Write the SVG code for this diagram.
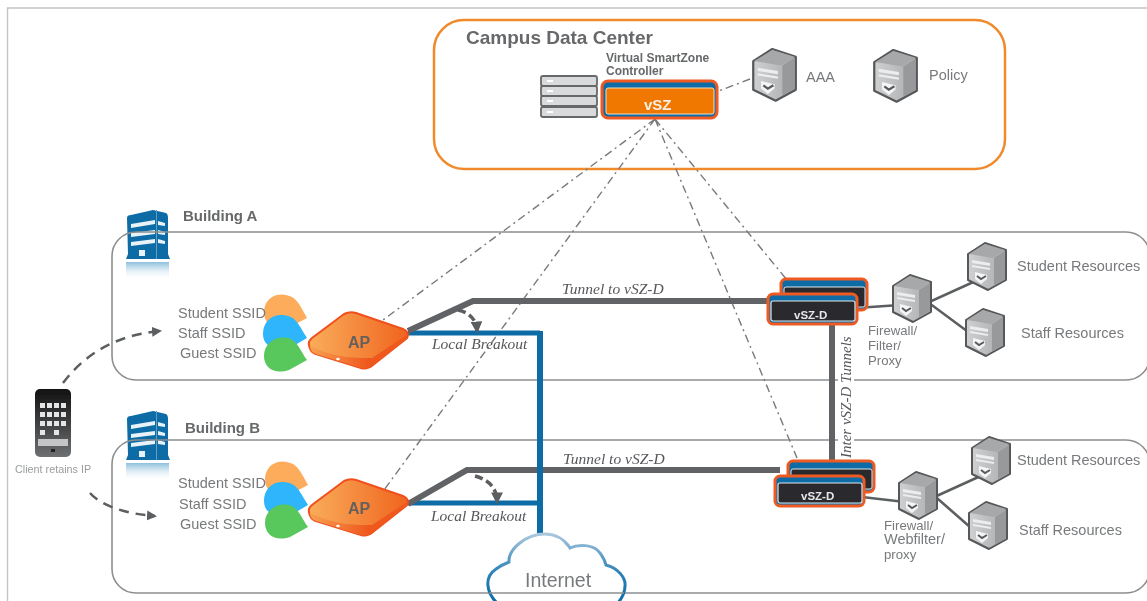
<svg xmlns="http://www.w3.org/2000/svg" width="1147" height="601" viewBox="0 0 1147 601">
<style>
text{font-family:"Liberation Sans",Arial,sans-serif;fill:#77797b}
.h{font-weight:bold;fill:#66686a}
.i{font-family:"Liberation Serif","Times New Roman",serif;font-style:italic;fill:#55575a;font-size:15.5px}
.l{font-size:14.500px}
.f{font-size:13.200px}
.dd{fill:none;stroke:#77797b;stroke-width:1.400;stroke-dasharray:8 4 2 4}
.bl{fill:none;stroke:#0a6ca6;stroke-width:5}
.gr{fill:none;stroke:#606265;stroke-width:6}
.th{fill:none;stroke:#5c5e60;stroke-width:2.5}
.da{fill:none;stroke:#5c5e60;stroke-width:2.5;stroke-dasharray:10 7}
.db{fill:none;stroke:#5c5e60;stroke-width:3.5;stroke-dasharray:8 4}
.box{fill:none;stroke:#8c8e90;stroke-width:1.6}
.vt{font-size:11.5px;font-weight:bold;fill:#e6e7e8}
.ap{font-size:16px;font-weight:bold;fill:#66615c}
</style>
<defs>
<filter id="soft" x="0" y="0" width="100%" height="100%"><feGaussianBlur stdDeviation="0.45"/></filter>
<linearGradient id="apg" x1="0" x2="1" y1="0" y2="0"><stop offset="0" stop-color="#f9ad5a"/><stop offset="1" stop-color="#f0641f"/></linearGradient>
<linearGradient id="apf" x1="0" x2="1" y1="0" y2="0"><stop offset="0" stop-color="#f7a050"/><stop offset="0.6" stop-color="#ef581e"/></linearGradient>
<linearGradient id="srv" x1="0" x2="1" y1="0" y2="0"><stop offset="0" stop-color="#cfd0d2"/><stop offset="1" stop-color="#a9abad"/></linearGradient>
<linearGradient id="refl" x1="0" x2="0" y1="0" y2="1"><stop offset="0" stop-color="#8cbfdc"/><stop offset="1" stop-color="#fff" stop-opacity="0"/></linearGradient>
<linearGradient id="cl" x1="0" x2="0" y1="0" y2="1"><stop offset="0" stop-color="#a9c8de"/><stop offset="0.55" stop-color="#2f83b7"/><stop offset="1" stop-color="#0a6ca6"/></linearGradient>
<linearGradient id="ph" x1="0" x2="0" y1="0" y2="1"><stop offset="0" stop-color="#111"/><stop offset="1" stop-color="#6e7072"/></linearGradient>
<marker id="ah" viewBox="0 0 10 10" refX="8" refY="5" markerWidth="4" markerHeight="4" orient="auto-start-reverse"><path d="M0 0L10 5L0 10z" fill="#5c5e60"/></marker>
<marker id="ah2" viewBox="0 0 10 10" refX="8" refY="5" markerWidth="3.400" markerHeight="3.400" orient="auto"><path d="M0 0L10 5L0 10z" fill="#5c5e60"/></marker>
<g id="server">
<path d="M2 11L19 0L40 7V37L22 47L2 37z" fill="url(#srv)" stroke="#56585a" stroke-width="2" stroke-linejoin="round"/>
<path d="M3 11L19 1L39 7L27 15z" fill="#a6a8aa"/>
<path d="M28 15L39 8V36L28 42z" fill="#97999b"/>
<path d="M6 17L24 20V23L6 20zM6 22L24 25V27L6 24z" fill="#eceded"/>
<path d="M9 29L21 32V36L15 41L9 36z" fill="#f5f5f5"/>
<path d="M11 33L15 36L20 33" fill="none" stroke="#56585a" stroke-width="2"/>
</g>
<g id="bldg">
<path d="M1 8Q1 5 5 5L27 0L40 3Q42 4 42 8V44L44 49H0L2 44z" fill="#0a6ca6"/>
<path d="M5 14L29 10V14L5 18zM5 23L29 20V24L5 27zM5 32L29 29V33L5 36zM32 11L39 13V16L32 15zM32 20L39 22V25L32 24zM32 29L39 31V34L32 33z" fill="#e8f2f8"/>
<rect x="13" y="40" width="6" height="6" fill="#e8f2f8"/>
<rect x="30" y="0" width="1" height="49" fill="#5e9fc6"/>
<rect x="0" y="52" width="43" height="18" fill="url(#refl)"/>
</g>
<g id="ssid">
<path d="M0 5C0 -9 14 -17 28 -10C33 -7 36 -2 43 11L24 21C8 23 0 16 0 5z" fill="#fdac5c"/>
<path d="M-1 27C-1 12 12 4 27 10C34 14 36 20 43 31L26 41C8 44 -1 38 -1 27z" fill="#2db5fb"/>
<path d="M0 49C0 35 14 27 27 32C34 36 36 43 43 53L25 63C9 68 0 60 0 49z" fill="#58c75c"/>
</g>
<g id="ap">
<path d="M-1 33Q-2 29 2 26L34 2Q40 -1 46 1L93 17Q100 20 97 26L63 53Q57 58 51 56L6 42Q0 40 -1 33z" fill="url(#apg)" stroke="#f0501e" stroke-width="2"/>
<path d="M0 34Q25 46 50 46H62L97 23V27L63 53Q57 58 51 56L6 42Q0 40 0 34z" fill="url(#apf)"/>
<ellipse cx="28" cy="47" rx="1.800" ry="1.200" fill="#fff"/>
</g>
<g id="vszd">
<rect x="13" y="-13" width="86" height="31" rx="5" fill="#0a6ca6" stroke="#ee5a24" stroke-width="3"/>
<rect x="16" y="-5" width="81" height="20" rx="2" fill="#2b2b2d" stroke="#dfe7ea" stroke-width="1"/>
<rect x="0" y="2" width="89" height="30" rx="5" fill="#0a6ca6" stroke="#ee5a24" stroke-width="3"/>
<rect x="3" y="9" width="84" height="20" rx="2" fill="#2b2b2d" stroke="#dfe7ea" stroke-width="1.200"/>
</g>
</defs>
<g filter="url(#soft)">
<rect width="1147" height="601" fill="#fff"/>
<path d="M7.500 601V8H1147" fill="none" stroke="#c4c4c4" stroke-width="1.400"/>

<g id="campus"><rect x="434" y="20" width="571" height="149" rx="30" fill="#fff" stroke="#f08a2c" stroke-width="2.500"/>
<text x="466" y="44" font-size="19" class="h">Campus Data Center</text></g>

<g id="building-a"><use href="#bldg" x="126" y="210"/><text x="183" y="221" font-size="15" class="h">Building A</text></g>
<g id="building-b"><use href="#bldg" x="126" y="411"/><text x="185" y="433" font-size="15" class="h">Building B</text></g>
<g id="building-a-box"><rect x="112" y="232" width="1038" height="148" rx="24" class="box"/></g>
<g id="building-b-box"><rect x="112" y="440" width="1038" height="153" rx="24" class="box"/></g>

<g id="connectors">
<path class="dd" d="M655 119L383 320M655 119L384 490M655 119L797 458M655 119L787 280M750 79L716 92"/>
<path class="bl" d="M408 333H540M408 503H540"/>
<path class="gr" d="M408 331L473 301H772M408 504L467 470H780"/>
<path d="M540 331V535" fill="none" stroke="#0a6ca6" stroke-width="6"/>
<path d="M832 322V460" fill="none" stroke="#606265" stroke-width="6"/>
<path class="th" d="M856 308L900 305M925 304L980 279M925 300L975 337M862 497L905 502M930 499L985 474M930 492L978 534"/>
<path d="M458 310Q476 314 477 331" class="db" marker-end="url(#ah2)"/>
<path d="M475 476Q497 482 497 502" class="db" marker-end="url(#ah2)"/>
<path d="M63 383C84 355 115 335 160 331" class="da" marker-end="url(#ah)"/>
<path d="M90 493C100 505 125 514 155 516" class="da" marker-end="url(#ah)"/>
</g>

<g id="dc-stack"><g fill="#d9dadb" stroke="#66686a" stroke-width="1.800"><rect x="541" y="76" width="56" height="10" rx="2"/><rect x="541" y="86" width="56" height="10" rx="2"/><rect x="541" y="96" width="56" height="10" rx="2"/><rect x="541" y="107" width="56" height="10" rx="2"/></g><path d="M547 81h6M547 91h6M547 101h6M547 112h6" stroke="#fff" stroke-width="2"/></g>
<g id="vsz"><text x="606" y="62" font-size="12" class="h">Virtual SmartZone</text><text x="606" y="75" font-size="12" class="h">Controller</text>
<rect x="602" y="81" width="115" height="37" rx="6" fill="#0a6ca6" stroke="#ee5a24" stroke-width="3"/>
<rect x="606" y="88" width="108" height="26" rx="2" fill="#f07800" stroke="#f5dcc0" stroke-width="1"/>
<text x="644" y="110" font-size="15" font-weight="bold" style="fill:#f6efe6">vSZ</text></g>
<g id="aaa"><use href="#server" transform="translate(751,49) scale(1.120,1.100)"/><text x="806" y="82" class="l">AAA</text></g>
<g id="policy"><use href="#server" transform="translate(872,50) scale(1.120,1.100)"/><text x="929" y="80" class="l">Policy</text></g>

<g id="ssid-a"><use href="#ssid" x="264" y="307"/><text x="178" y="318" class="l">Student SSID</text><text x="178" y="338" class="l">Staff SSID</text><text x="180" y="358" class="l">Guest SSID</text></g>
<g id="ap-a"><use href="#ap" x="310" y="312"/><text x="348" y="348" class="ap">AP</text></g>
<text class="i" x="432" y="349" id="lb-a">Local Breakout</text>
<text class="i" x="562" y="294" id="t-a">Tunnel to vSZ-D</text>
<g id="vszd-a"><use href="#vszd" x="768" y="292"/><text x="794" y="319" class="vt">vSZ-D</text></g>
<g id="fw-a"><use href="#server" x="891" y="275"/><text x="868" y="335" class="f">Firewall/</text><text x="868" y="350" class="f">Filter/</text><text x="868" y="365" class="f">Proxy</text></g>
<g id="sr-a"><use href="#server" x="966" y="243"/><text x="1017" y="271" class="l">Student Resources</text></g>
<g id="st-a"><use href="#server" x="964" y="309"/><text x="1021" y="338" class="l">Staff Resources</text></g>
<g id="inter"><rect x="838" y="336" width="16" height="122" fill="#fff"/><text class="i" style="font-size:15px" transform="translate(851,458) rotate(-90)">Inter vSZ-D Tunnels</text></g>

<g id="phone"><rect x="35" y="389" width="36" height="68" rx="5" fill="url(#ph)"/><g fill="#e4e5e6"><path d="M40 403h5v5h-5zM47 403h5v5h-5zM54 403h5v5h-5zM61 403h5v5h-5zM40 412h5v5h-5zM47 412h5v5h-5zM54 412h5v5h-5zM61 412h5v5h-5zM40 421h5v5h-5zM47 421h5v5h-5zM54 421h5v5h-5zM61 421h5v5h-5zM40 430h5v5h-5zM54 430h5v5h-5z"/><rect x="38" y="439" width="30" height="7" fill="#c4c5c7"/></g><rect x="51" y="449" width="4" height="3" fill="#222"/><text x="15" y="473" font-size="10.800" style="fill:#9a9c9e">Client retains IP</text></g>

<g id="ssid-b"><use href="#ssid" x="265" y="474"/><text x="178" y="488" class="l">Student SSID</text><text x="179" y="509" class="l">Staff SSID</text><text x="180" y="529" class="l">Guest SSID</text></g>
<g id="ap-b"><use href="#ap" x="310" y="479"/><text x="348" y="514" class="ap">AP</text></g>
<text class="i" x="431" y="521" id="lb-b">Local Breakout</text>
<text class="i" x="563" y="464" id="t-b">Tunnel to vSZ-D</text>
<g id="vszd-b"><use href="#vszd" x="775" y="474"/><text x="801" y="500" class="vt">vSZ-D</text></g>
<g id="fw-b"><use href="#server" x="897" y="472"/><text x="884" y="530" class="f">Firewall/</text><text x="884" y="544" class="l">Webfilter/</text><text x="884" y="559" class="f">proxy</text></g>
<g id="sr-b"><use href="#server" x="970" y="437"/><text x="1017" y="465" class="l">Student Resources</text></g>
<g id="st-b"><use href="#server" x="967" y="502"/><text x="1019" y="535" class="l">Staff Resources</text></g>

<g id="internet"><path d="M497 603C486 592 484 577 496 569C500 566 504 564 509 562C508 550 525 534 545 534C556 534 565 540 570 548C578 544 594 544 600 553C603 557 605 560 606 565C618 568 626 578 625 586C625 592 622 598 618 603z" fill="#fff" stroke="url(#cl)" stroke-width="3"/>
<path d="M489 593H624" fill="none" stroke="#8c8e90" stroke-width="1.600"/>
<text x="525" y="587" font-size="19.500" style="fill:#77797b">Internet</text></g>
</g>
</svg>
